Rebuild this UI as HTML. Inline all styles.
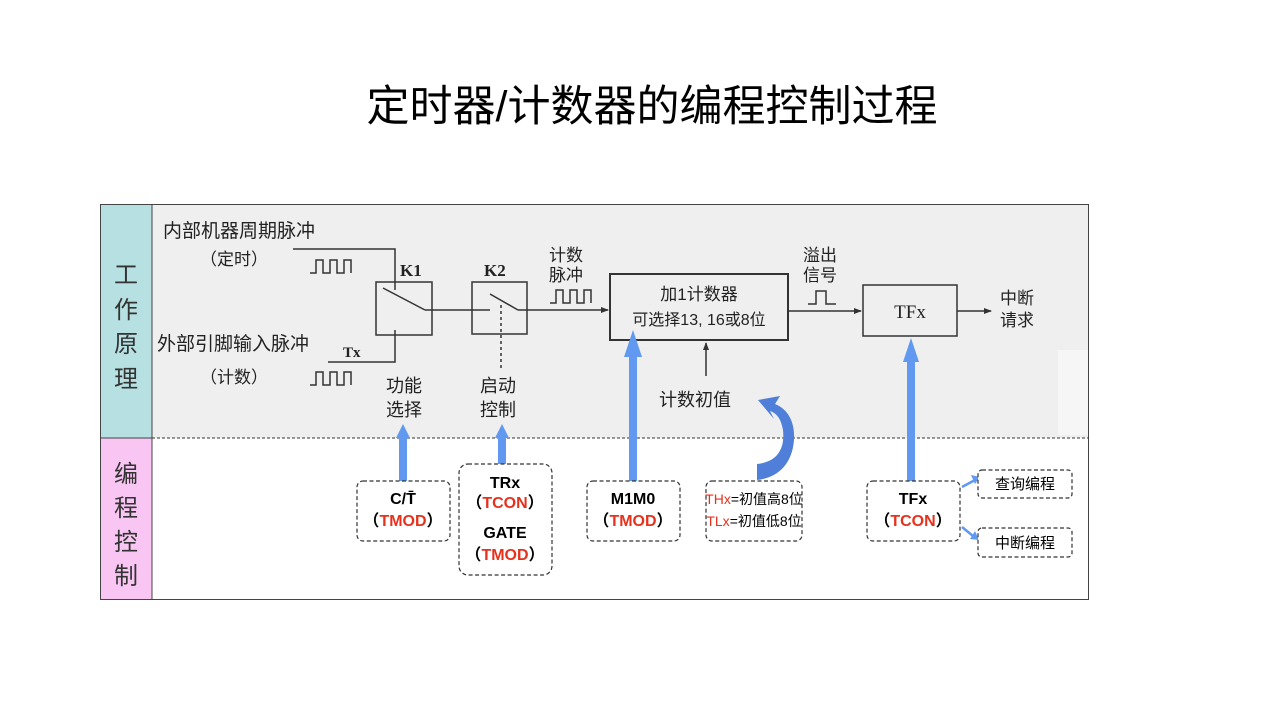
<!DOCTYPE html>
<html><head><meta charset="utf-8"><style>
html,body{margin:0;padding:0;background:#fff;}
svg{display:block;}
.s{font-family:"Liberation Sans","Noto Sans CJK SC",sans-serif;}
.r{font-family:"Liberation Serif","Noto Serif CJK SC",serif;}
</style></head><body>
<svg width="1280" height="720" viewBox="0 0 1280 720" xmlns="http://www.w3.org/2000/svg">
<defs>
<marker id="ah" markerWidth="8" markerHeight="8" refX="7" refY="4" orient="auto" markerUnits="userSpaceOnUse"><path d="M0,1 L8,4 L0,7 Z" fill="#333"/></marker>
</defs>
<text x="652" y="121" text-anchor="middle" class="s" font-size="43" fill="#000">定时器/计数器的编程控制过程</text>

<rect x="100" y="204" width="52" height="234" fill="#b6e0e2"/>
<rect x="100" y="438" width="52" height="162" fill="#f9c6f3"/>
<rect x="152" y="204" width="937" height="234" fill="#efefef"/>
<rect x="1058" y="350" width="30" height="85" fill="#f6f6f6"/>
<rect x="100.5" y="204.5" width="988" height="395" fill="none" stroke="#444" stroke-width="1"/>
<line x1="152" y1="204" x2="152" y2="600" stroke="#444"/>
<line x1="100" y1="438" x2="152" y2="438" stroke="#444"/>
<line x1="152" y1="438" x2="1089" y2="438" stroke="#333" stroke-dasharray="3,2"/>

<g class="s" font-size="24" fill="#333" text-anchor="middle">
<text x="126" y="283">工</text><text x="126" y="318">作</text><text x="126" y="352">原</text><text x="126" y="387">理</text>
<text x="126" y="482">编</text><text x="126" y="516">程</text><text x="126" y="550">控</text><text x="126" y="584">制</text>
</g>

<g class="s" font-size="19" fill="#222">
<text x="163" y="237">内部机器周期脉冲</text>
<text x="200" y="265" font-size="17">（定时）</text>
<text x="157" y="350">外部引脚输入脉冲</text>
<text x="200" y="383" font-size="17">（计数）</text>
<text x="386" y="392" font-size="18">功能</text><text x="386" y="416" font-size="18">选择</text>
<text x="480" y="392" font-size="18">启动</text><text x="480" y="416" font-size="18">控制</text>
<text x="549" y="261" font-size="17">计数</text><text x="549" y="281" font-size="17">脉冲</text>
<text x="803" y="261" font-size="17">溢出</text><text x="803" y="281" font-size="17">信号</text>
<text x="1000" y="304" font-size="17">中断</text><text x="1000" y="326" font-size="17">请求</text>
<text x="659" y="406" font-size="18">计数初值</text>
<text x="699" y="300" text-anchor="middle" font-size="17">加1计数器</text>
<text x="699" y="325" text-anchor="middle" font-size="16">可选择13, 16或8位</text>
</g>
<g class="r" font-weight="bold" fill="#222">
<text x="400" y="276" font-size="17">K1</text>
<text x="484" y="276" font-size="17">K2</text>
<text x="343" y="357" font-size="15">Tx</text>
<text x="910" y="318" font-size="19" text-anchor="middle" font-weight="normal">TFx</text>
</g>

<g fill="none" stroke="#333" stroke-width="1.5">
<path d="M310,273 H316 V260 H323 V273 H330 V260 H337 V273 H344 V260 H351 V273"/>
<path d="M310,385 H316 V372 H323 V385 H330 V372 H337 V385 H344 V372 H351 V385"/>
<path d="M550,303 H556 V290 H563 V303 H570 V290 H577 V303 H584 V290 H591 V303"/>
<path d="M808,304 H816 V291 H826 V304 H836"/>
<path d="M293,249 H395 V290"/>
<path d="M328,362 H395 V330"/>
<rect x="376" y="282" width="56" height="53"/>
<rect x="472" y="282" width="55" height="52"/>
<line x1="383" y1="288" x2="425" y2="310"/>
<line x1="425" y1="310" x2="490" y2="310"/>
<line x1="490" y1="294" x2="518" y2="310"/>
<line x1="518" y1="310" x2="608" y2="310" marker-end="url(#ah)"/>
<line x1="501" y1="305" x2="501" y2="370" stroke-dasharray="3,3"/>
<rect x="610" y="274" width="178" height="66" stroke-width="2"/>
<line x1="788" y1="311" x2="861" y2="311" marker-end="url(#ah)"/>
<rect x="863" y="285" width="94" height="51"/>
<line x1="957" y1="311" x2="991" y2="311" marker-end="url(#ah)"/>
<line x1="706" y1="376" x2="706" y2="343" marker-end="url(#ah)"/>
</g>

<g fill="#6199f0">
<rect x="399" y="436" width="8" height="45"/><path d="M396,438 L403,424 L410,438 Z"/>
<rect x="498" y="436" width="8" height="28"/><path d="M495,438 L502,424 L509,438 Z"/>
<rect x="629" y="355" width="8" height="126"/><path d="M624,357 L633,330 L642,357 Z"/>
<rect x="907" y="360" width="8" height="121"/><path d="M903,362 L911,338 L919,362 Z"/>
<path d="M757,480 L757,464 C778,462 785,448 783,430 C781,418 776,413 770,411 L774,419 L758,400 L780,396 L775,404 C790,410 795,425 794,440 C792,466 776,478 757,480 Z" fill="#4f7fd8"/>
<path d="M962,487 L975,480" stroke="#6199f0" stroke-width="2.5"/><path d="M971,475 L980,477 L975,484 Z"/>
<path d="M962,527 L973,536" stroke="#6199f0" stroke-width="2.5"/><path d="M970,539 L979,540 L975,531 Z"/>
</g>

<g fill="#fff" stroke="#333" stroke-width="1.2" stroke-dasharray="4,2.5">
<rect x="357" y="481" width="93" height="60" rx="6"/>
<rect x="459" y="464" width="93" height="111" rx="9"/>
<rect x="587" y="481" width="93" height="60" rx="6"/>
<rect x="706" y="481" width="96" height="60" rx="6"/>
<rect x="867" y="481" width="93" height="60" rx="6"/>
<rect x="978" y="470" width="94" height="28" rx="4"/>
<rect x="978" y="528" width="94" height="29" rx="4"/>
</g>
<g class="s" font-size="16" font-weight="bold" text-anchor="middle" fill="#000">
<text x="403" y="504">C/T̄</text>
<text x="403" y="526">（<tspan fill="#e8311c">TMOD</tspan>）</text>
<text x="505" y="488">TRx</text>
<text x="505" y="508">（<tspan fill="#e8311c">TCON</tspan>）</text>
<text x="505" y="538">GATE</text>
<text x="505" y="560">（<tspan fill="#e8311c">TMOD</tspan>）</text>
<text x="633" y="504">M1M0</text>
<text x="633" y="526">（<tspan fill="#e8311c">TMOD</tspan>）</text>
<text x="913" y="504">TFx</text>
<text x="913" y="526">（<tspan fill="#e8311c">TCON</tspan>）</text>
<text x="754" y="504" font-size="14" font-weight="normal"><tspan fill="#e8311c">THx</tspan>=初值高8位</text>
<text x="754" y="526" font-size="14" font-weight="normal"><tspan fill="#e8311c">TLx</tspan>=初值低8位</text>
<text x="1025" y="489" font-size="15" font-weight="normal">查询编程</text>
<text x="1025" y="548" font-size="15" font-weight="normal">中断编程</text>
</g>
</svg>
</body></html>
